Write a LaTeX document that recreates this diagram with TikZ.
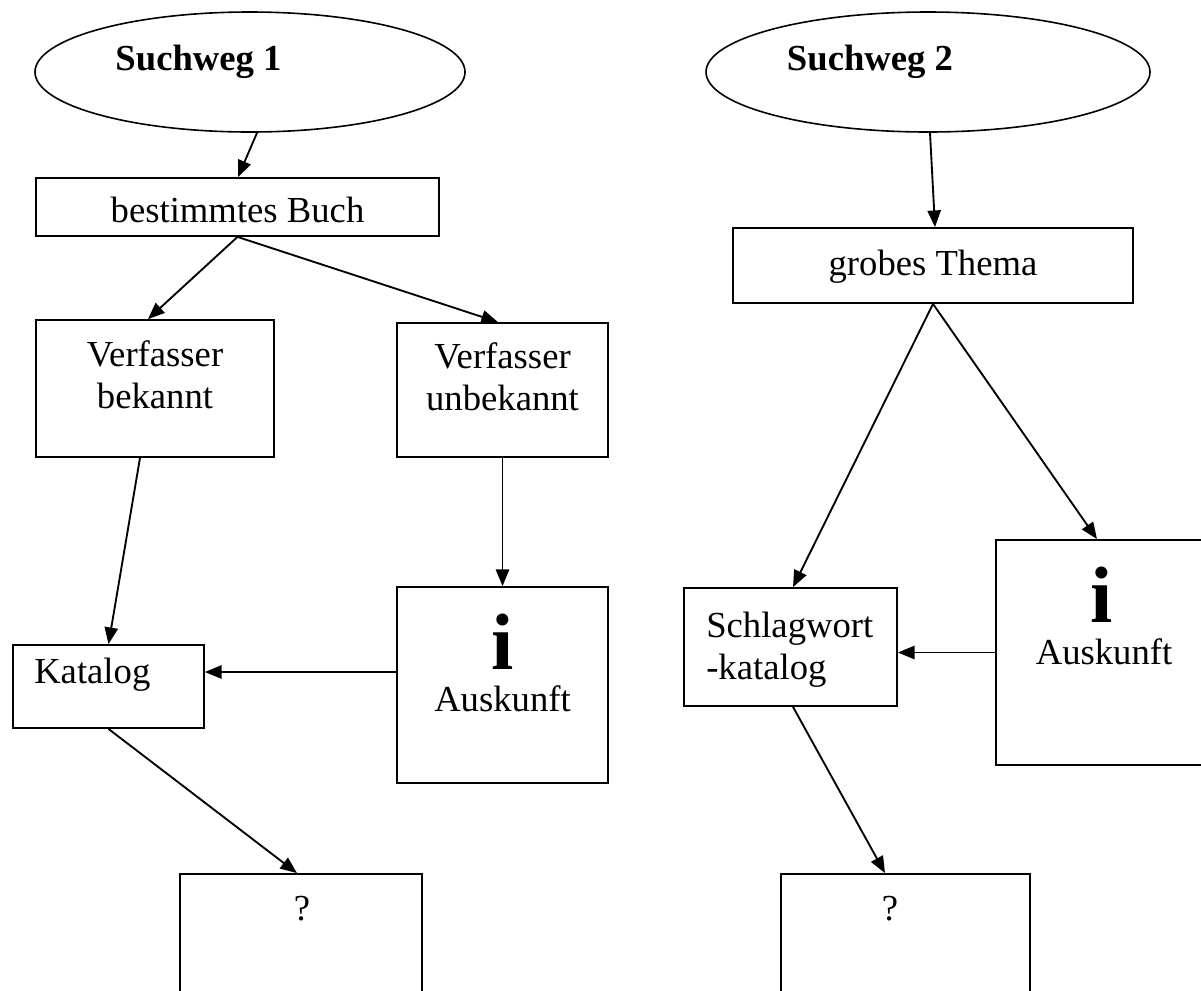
\documentclass[tikz,border=0pt]{standalone}
\usepackage{fontspec}
\setmainfont{Liberation Serif}
\usetikzlibrary{shapes.geometric,arrows.meta,calc}
\begin{document}
\begin{tikzpicture}[x=0.75pt,y=-0.75pt,
  sz/.style 2 args={minimum width=#1*0.75pt,minimum height=#2*0.75pt},
  box/.style={draw,line width=1.35pt,inner sep=0pt,rectangle},
  oval/.style={draw,line width=1.2pt,inner sep=0pt,ellipse},
  txt/.style={inner sep=0pt,anchor=base,font=\fontsize{27.5}{31.6}\selectfont},
  ltxt/.style={txt,anchor=base west},
  btxt/.style={txt,font=\fontsize{27.5}{31.6}\selectfont\bfseries},
  itxt/.style={inner sep=0pt,anchor=base,font=\fontsize{60}{62}\selectfont\bfseries},
  arr/.style={line width=1.4pt,-{Triangle[length=12.5pt,width=10pt]}}]
\clip (0,0) rectangle (1201,990);
% shapes
\node[oval,sz={430}{120}] (e1) at (250,72) {};
\node[oval,sz={444}{120}] (e2) at (928,72) {};
\node[box,sz={403}{58}] (bb) at (237.5,207) {};
\node[box,sz={400}{75}] (gt) at (933,265.5) {};
\node[box,sz={238}{137}] (vb) at (155,388.5) {};
\node[box,sz={211}{134}] (vu) at (502.5,390) {};
\node[box,sz={191}{83}] (kat) at (108.5,686.5) {};
\node[box,sz={211}{196}] (a1) at (502.5,685) {};
\node[box,sz={242}{186}] (q1) at (301,967) {};
\node[box,sz={213}{118}] (sk) at (790.5,647) {};
\node[box,sz={264}{225}] (a2) at (1128,652.5) {};
\node[box,sz={249}{186}] (q2) at (905.5,967) {};
% texts
\node[btxt] (t1) at (198.5,70) {Suchweg 1};
\node[btxt] (t2) at (870,70) {Suchweg 2};
\node[txt] (tbb) at (237.5,222) {bestimmtes Buch};
\node[txt] (tgt) at (933,275) {grobes Thema};
\node[txt] (tvb1) at (155,366) {Verfasser};
\node[txt] (tvb2) at (155,408) {bekannt};
\node[txt] (tvu1) at (502.5,368) {Verfasser};
\node[txt] (tvu2) at (502.5,410) {unbekannt};
\node[ltxt] (tkat) at (34,683) {Katalog};
\node[itxt] (ti1) at (502.5,669) {i};
\node[txt] (ta1) at (502.5,711) {Auskunft};
\node[ltxt] (tsk1) at (706,637) {Schlagwort};
\node[ltxt] (tsk2) at (706,679) {-katalog};
\node[itxt] (ti2) at (1102,622) {i};
\node[txt] (ta2) at (1104,664) {Auskunft};
\node[txt] (tq1) at (302,920) {?};
\node[txt] (tq2) at (890,920) {?};
% connectors
\draw[arr] ($(e1.south)+(7,0)$) -- ($(bb.north)+(0.5,0)$);
\draw[arr] ($(e2.south)+(2,0)$) -- ($(gt.north)+(2,0)$);
\draw[arr] (bb.south) -- ($(vb.north)+(-7,0)$);
\draw[arr] (bb.south) -- ($(vu.north)+(-4.5,0)$);
\draw[arr] ($(vb.south)+(-15,0)$) -- (kat.north);
\draw[arr] (vu.south) -- (a1.north);
\draw[arr] ($(a1.west)+(0,-13)$) -- ($(kat.east)+(0,-14.5)$);
\draw[arr] (kat.south) -- ($(q1.north)+(-4,0)$);
\draw[arr] (gt.south) -- ($(sk.north)+(2.5,0)$);
\draw[arr] (gt.south) -- ($(a2.north)+(-31,0)$);
\draw[arr] (a2.west) -- ($(sk.east)+(0,5.5)$);
\draw[arr] ($(sk.south)+(2.5,0)$) -- ($(q2.north)+(-20.5,0)$);
\end{tikzpicture}
\end{document}
